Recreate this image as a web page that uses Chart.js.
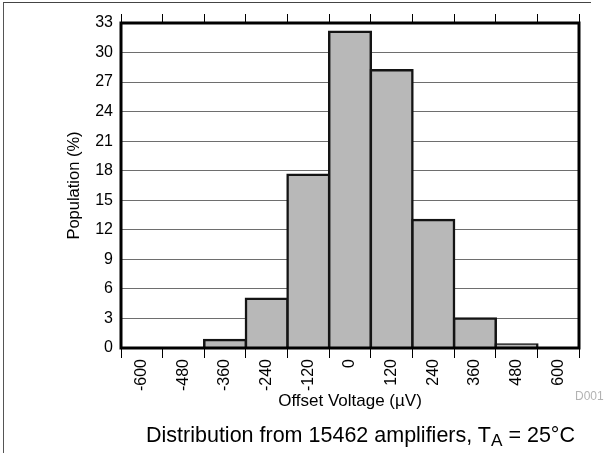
<!DOCTYPE html>
<html>
<head>
<meta charset="utf-8">
<script src="https://cdn.jsdelivr.net/npm/chart.js@4/dist/chart.umd.min.js"></script>
<style>
    html, body { margin: 0; padding: 0; background: #fff; }
    #wrap { position: relative; width: 604px; height: 453px; overflow: hidden;
            font-family: "Liberation Sans", Arial, sans-serif; }
    #frame { position: absolute; left: 3px; top: 2px; width: 587px; height: 470px;
             border-top: 1px solid #444; border-left: 1px solid #555; }
    #chart { position: absolute; left: 0; top: 0; }
    #code { position: absolute; left: 575px; top: 390px; font-size: 12px; line-height: 12px; color: #b3b3b3; }
    #caption { position: absolute; left: 0; width: 721px; top: 425px; text-align: center;
               font-size: 21.5px; line-height: 21.5px; color: #000; white-space: nowrap; }
    #caption .sub { font-size: 0.8em; position: relative; top: 0.22em; }
</style>
</head>
<body>
<div id="wrap">
    <div id="frame"></div>
    <canvas id="chart" width="604" height="453"></canvas>
    <div id="code">D001</div>
    <div id="caption">Distribution from 15462 amplifiers, T<span class="sub">A</span> = 25°C</div>
</div>
<script>
// histogram bins (offset voltage, µV) and population share (%)
const binLabels = ['-600', '-480', '-360', '-240', '-120', '0', '120', '240', '360', '480', '600'];
const population = [0, 0.05, 0.8, 5.0, 17.6, 32.1, 28.2, 13.0, 3.0, 0.35, 0];
const yTicks = [0, 3, 6, 9, 12, 15, 18, 21, 24, 27, 30, 33];

const FONT = '"Liberation Sans", Arial, sans-serif';

// thick black box around the plot area
const framePlugin = {
    id: 'frame',
    afterDatasetsDraw(chart) {
        const { ctx, chartArea: a } = chart;
        ctx.save();
        ctx.strokeStyle = '#000';
        ctx.lineWidth = 3;
        ctx.strokeRect(a.left, a.top, a.right - a.left, a.bottom - a.top);
        ctx.restore();
    }
};

new Chart(document.getElementById('chart'), {
    type: 'bar',
    data: {
        labels: binLabels,
        datasets: [{
            data: population,
            backgroundColor: '#b8b8b8',
            borderColor: '#141414',
            borderWidth: 2.5,
            inflateAmount: 1.25,
            categoryPercentage: 1,
            barPercentage: 1
        }]
    },
    options: {
        responsive: false,
        animation: false,
        devicePixelRatio: 1,
        layout: { padding: { top: 0, right: 25, bottom: 41, left: 0 } },
        plugins: {
            legend: { display: false },
            tooltip: { enabled: false }
        },
        scales: {
            x: {
                position: 'bottom',
                offset: true,
                afterFit: s => { s.height = 64; },
                border: { display: false },
                grid: { offset: true, drawOnChartArea: false, drawTicks: true, tickLength: 10, color: '#000', lineWidth: 1 },
                ticks: {
                    autoSkip: false, minRotation: 90, maxRotation: 90, padding: 1,
                    color: '#000', font: { family: FONT, size: 16 }
                },
                title: {
                    display: true, text: 'Offset Voltage (µV)', color: '#000',
                    padding: { top: 0, bottom: 0 }, font: { family: FONT, size: 17, lineHeight: 1.2 }
                }
            },
            xTop: {
                type: 'category',
                position: 'top',
                offset: true,
                afterFit: s => { s.height = 23; },
                border: { display: false },
                grid: { offset: true, drawOnChartArea: false, drawTicks: true, tickLength: 9, color: '#000', lineWidth: 1 },
                ticks: { display: false }
            },
            y: {
                min: 0,
                max: 33,
                afterFit: s => { s.width = 121; },
                afterBuildTicks: s => { s.ticks = yTicks.map(v => ({ value: v })); },
                border: { display: false },
                grid: { drawTicks: false, color: '#6e6e6e', lineWidth: 1 },
                ticks: { padding: 8, color: '#000', font: { family: FONT, size: 16 } },
                title: {
                    display: true, text: 'Population (%)', color: '#000',
                    padding: { top: 64.4, bottom: 0 }, font: { family: FONT, size: 16.5, lineHeight: 1.2 }
                }
            }
        }
    },
    plugins: [framePlugin]
});
</script>
</body>
</html>
